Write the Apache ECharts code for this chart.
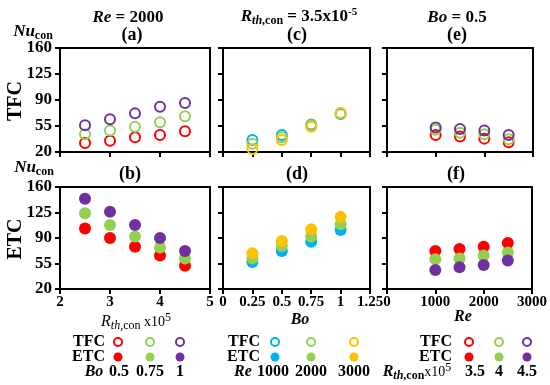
<!DOCTYPE html>
<html><head><meta charset="utf-8">
<script src="https://cdn.jsdelivr.net/npm/echarts@6/dist/echarts.min.js"></script>
<style>html,body{margin:0;padding:0;background:#fff}#c{width:550px;height:385px}</style>
</head><body><div id="c"></div>
<script>
// ---- data ----
const rthX = [2.5, 3, 3.5, 4, 4.5];
const boX = [0.25, 0.5, 0.75, 1];
const reX = [1000, 1500, 2000, 2500];
const yTicks = [20, 55, 90, 125, 160];
// (a) TFC, Re = 2000, vs Rth,con ; series Bo = 0.5, 0.75, 1
const aBo05 = [32, 35, 40, 43, 48];
const aBo075 = [44, 49, 54, 60, 68];
const aBo1 = [56, 64, 72, 81, 86];
// (b) ETC
const bBo05 = [103, 90, 78, 66, 52];
const bBo075 = [124, 108, 92, 77, 62];
const bBo1 = [144, 126, 108, 90, 72];
// (c) TFC, Rth = 3.5e-5, vs Bo ; series Re = 1000, 2000, 3000
const cRe1000 = [36, 43, 57, 71];
const cRe2000 = [31, 40, 56, 72];
const cRe3000 = [24, 36, 54, 73];
// (d) ETC
const dRe1000 = [57, 72, 85, 101];
const dRe2000 = [62, 79, 92, 109];
const dRe3000 = [69, 86, 102, 119];
// (e) TFC, Bo = 0.5, vs Re ; series Rth = 3.5, 4, 4.5
const eR35 = [43, 41, 38, 33];
const eR4 = [50, 46, 44, 37];
const eR45 = [53, 51, 49, 43];
// (f) ETC
const fR35 = [72, 75, 78, 83];
const fR4 = [61, 62, 66, 70];
const fR45 = [46, 50, 53, 59];

const RED = '#ff0000', GREEN = '#92d050', PURPLE = '#7030a0', BLUE = '#00b0f0', GOLD = '#ffc000';
const FF = '"Liberation Serif", "Times New Roman", serif';

const chart = echarts.init(document.getElementById('c'), null, {renderer: 'canvas'});

const gridDefs = [
  {left: 60, top: 48, width: 150, height: 104},
  {left: 60, top: 187, width: 150, height: 102},
  {left: 223, top: 48, width: 147, height: 104},
  {left: 223, top: 187, width: 147, height: 102},
  {left: 387, top: 48, width: 146, height: 104},
  {left: 387, top: 187, width: 146, height: 102}
];
const xRanges = [[2, 5, 1], [0, 1.25, 0.25], [0, 3000, 1000]];

const grids = gridDefs.map(g => Object.assign({show: true, borderColor: '#000', borderWidth: 2, backgroundColor: 'transparent'}, g));
const xAxes = gridDefs.map((g, i) => {
  const r = xRanges[Math.floor(i / 2)];
  return {
    type: 'value', gridIndex: i, min: r[0], max: r[1], interval: r[2],
    axisLine: {show: true, lineStyle: {color: '#000', width: 2}},
    axisTick: {show: true, length: 5, lineStyle: {color: '#000', width: 2}},
    axisLabel: {show: i % 2 === 1, color: '#000', fontFamily: FF, fontWeight: 'bold', fontSize: 15, margin: 6,
      formatter: v => String(v)},
    splitLine: {show: false}
  };
});
const yAxes = gridDefs.map((g, i) => ({
  type: 'value', gridIndex: i, min: 20, max: 160,
  axisLine: {show: true, lineStyle: {color: '#000', width: 2}},
  axisTick: {show: true, length: 5, customValues: yTicks, lineStyle: {color: '#000', width: 2}},
  axisLabel: {show: i < 2, customValues: yTicks, color: '#000', fontFamily: FF, fontWeight: 'bold', fontSize: 17, margin: 8},
  splitLine: {show: false}
}));

function zip(xs, ys) { return xs.map((x, k) => [x, ys[k]]); }
function sc(idx, xs, ys, color, filled) {
  return {
    type: 'scatter', xAxisIndex: idx, yAxisIndex: idx, data: zip(xs, ys),
    symbol: 'circle', symbolSize: filled ? 12 : 10,
    itemStyle: filled ? {color: color, opacity: 1} : {color: 'rgba(255,255,255,0)', borderColor: color, borderWidth: 2, opacity: 1},
    emphasis: {disabled: true}, silent: true, animation: false
  };
}
const series = [
  sc(0, rthX, aBo05, RED, false), sc(0, rthX, aBo075, GREEN, false), sc(0, rthX, aBo1, PURPLE, false),
  sc(1, rthX, bBo05, RED, true), sc(1, rthX, bBo075, GREEN, true), sc(1, rthX, bBo1, PURPLE, true),
  sc(2, boX, cRe1000, BLUE, false), sc(2, boX, cRe2000, GREEN, false), sc(2, boX, cRe3000, GOLD, false),
  sc(3, boX, dRe1000, BLUE, true), sc(3, boX, dRe2000, GREEN, true), sc(3, boX, dRe3000, GOLD, true),
  sc(4, reX, eR35, RED, false), sc(4, reX, eR4, GREEN, false), sc(4, reX, eR45, PURPLE, false),
  sc(5, reX, fR35, RED, true), sc(5, reX, fR4, GREEN, true), sc(5, reX, fR45, PURPLE, true)
];

const rich = {
  i: {fontFamily: FF, fontStyle: 'italic', fontWeight: 'bold', fontSize: 17, lineHeight: 20},
  b: {fontFamily: FF, fontWeight: 'bold', fontSize: 17, lineHeight: 20},
  is: {fontFamily: FF, fontStyle: 'italic', fontWeight: 'bold', fontSize: 12, verticalAlign: 'bottom', lineHeight: 12},
  bs: {fontFamily: FF, fontWeight: 'bold', fontSize: 12, verticalAlign: 'bottom', lineHeight: 12},
  sup: {fontFamily: FF, fontWeight: 'bold', fontSize: 11, verticalAlign: 'top', lineHeight: 11},
  ni: {fontFamily: FF, fontStyle: 'italic', fontSize: 16, lineHeight: 20},
  nis: {fontFamily: FF, fontStyle: 'italic', fontSize: 12, verticalAlign: 'bottom', lineHeight: 12},
  ns: {fontFamily: FF, fontSize: 12, verticalAlign: 'bottom', lineHeight: 12},
  n: {fontFamily: FF, fontSize: 14, lineHeight: 20},
  nsup: {fontFamily: FF, fontSize: 12, verticalAlign: 'top', lineHeight: 12},
  li: {fontFamily: FF, fontStyle: 'italic', fontWeight: 'bold', fontSize: 16, lineHeight: 20},
  lb: {fontFamily: FF, fontWeight: 'bold', fontSize: 16, lineHeight: 20}
};

function txt(x, y, text, o) {
  o = o || {};
  return {
    type: 'text', x: x, y: y, rotation: o.rot || 0, silent: true,
    style: {
      text: text, rich: rich, fill: '#000',
      font: o.font || ('bold 16px ' + FF),
      align: o.align || 'center', verticalAlign: 'middle',
      textAlign: o.align || 'center', textVerticalAlign: 'middle'
    }
  };
}
function ring(cx, cy, color) { return {type: 'circle', silent: true, shape: {cx: cx, cy: cy, r: 4}, style: {fill: '#fff', stroke: color, lineWidth: 2}}; }
function dot(cx, cy, color) { return {type: 'circle', silent: true, shape: {cx: cx, cy: cy, r: 4.5}, style: {fill: color}}; }

const graphics = [
  // column titles
  txt(128, 18, '{i|Re}{b| = 2000}'),
  txt(299, 17, '{i|R}{is|th}{bs|,con}{b| = 3.5x10}{sup|-5}'),
  txt(457, 18, '{i|Bo}{b| = 0.5}'),
  txt(132, 35, '(a)', {font: 'bold 18px ' + FF}),
  txt(297, 35, '(c)', {font: 'bold 18px ' + FF}),
  txt(457, 35, '(e)', {font: 'bold 18px ' + FF}),
  txt(130, 174, '(b)', {font: 'bold 18px ' + FF}),
  txt(297, 174, '(d)', {font: 'bold 18px ' + FF}),
  txt(456, 174, '(f)', {font: 'bold 18px ' + FF}),
  // y labels
  txt(33, 32, '{i|Nu}{bs|con}'),
  txt(34, 168, '{i|Nu}{bs|con}'),
  txt(16, 101, 'TFC', {font: 'bold 20px ' + FF, rot: Math.PI / 2}),
  txt(16, 239, 'ETC', {font: 'bold 20px ' + FF, rot: Math.PI / 2}),
  // x axis names
  txt(136, 322, '{ni|R}{nis|th}{ns|,con}{n| x10}{nsup|5}'),
  txt(300, 320, '{li|Bo}'),
  txt(463, 317, '{li|Re}'),
  // legend block 1
  txt(105, 342, 'TFC', {align: 'right', font: 'bold 16px ' + FF}),
  txt(105, 357, 'ETC', {align: 'right', font: 'bold 16px ' + FF}),
  ring(118, 342, RED), ring(150, 342, GREEN), ring(180, 342, PURPLE),
  dot(118, 357, RED), dot(150, 357, GREEN), dot(180, 357, PURPLE),
  txt(94, 372, '{li|Bo}'),
  txt(119, 372, '0.5'), txt(150, 372, '0.75'), txt(180, 372, '1'),
  // legend block 2
  txt(260, 342, 'TFC', {align: 'right', font: 'bold 16px ' + FF}),
  txt(260, 357, 'ETC', {align: 'right', font: 'bold 16px ' + FF}),
  ring(275, 342, BLUE), ring(311, 342, GREEN), ring(354, 342, GOLD),
  dot(275, 357, BLUE), dot(311, 357, GREEN), dot(354, 357, GOLD),
  txt(243, 372, '{li|Re}'),
  txt(273, 372, '1000'), txt(311, 372, '2000'), txt(354, 372, '3000'),
  // legend block 3
  txt(452, 342, 'TFC', {align: 'right', font: 'bold 16px ' + FF}),
  txt(452, 357, 'ETC', {align: 'right', font: 'bold 16px ' + FF}),
  ring(469, 342, RED), ring(499, 342, GREEN), ring(527, 342, PURPLE),
  dot(469, 357, RED), dot(499, 357, GREEN), dot(527, 357, PURPLE),
  txt(417, 372, '{li|R}{is|th}{bs|,con}{n|x10}{nsup|5}'),
  txt(475, 372, '3.5'), txt(499, 372, '4'), txt(527, 372, '4.5')
];

chart.setOption({
  animation: false,
  backgroundColor: '#fff',
  grid: grids,
  xAxis: xAxes,
  yAxis: yAxes,
  series: series,
  graphic: graphics
});
</script>
</body></html>
